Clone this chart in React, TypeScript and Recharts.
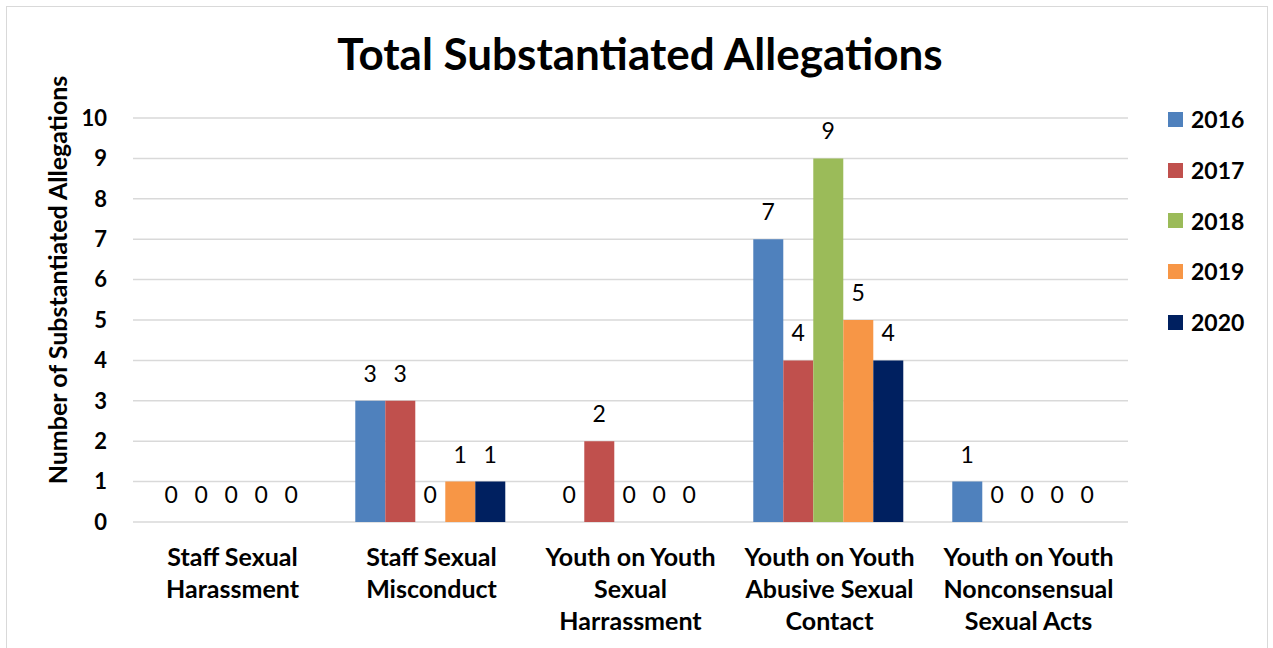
import { BarChart, Bar, XAxis, YAxis, CartesianGrid, LabelList, Label } from "recharts"

const categories = [
  "Staff Sexual\nHarassment",
  "Staff Sexual\nMisconduct",
  "Youth on Youth\nSexual\nHarrassment",
  "Youth on Youth\nAbusive Sexual\nContact",
  "Youth on Youth\nNonconsensual\nSexual Acts",
]
const years = ["2016", "2017", "2018", "2019", "2020"]
const v2016 = [0, 3, 0, 7, 1]
const v2017 = [0, 3, 2, 4, 0]
const v2018 = [0, 0, 0, 9, 0]
const v2019 = [0, 1, 0, 5, 0]
const v2020 = [0, 1, 0, 4, 0]
const yTicks = [0, 1, 2, 3, 4, 5, 6, 7, 8, 9, 10]

const colors = ["#4F81BD", "#C0504D", "#9BBB59", "#F79646", "#002060"]
const FONT = "Lato, 'Open Sans', sans-serif"

const data = categories.map((name, i) => ({
  name,
  "2016": v2016[i],
  "2017": v2017[i],
  "2018": v2018[i],
  "2019": v2019[i],
  "2020": v2020[i],
}))

function CategoryTick(props: any) {
  const { x, y, payload } = props
  const lines = String(payload.value).split("\n")
  return (
    <text x={x} y={y} textAnchor="middle" fontFamily={FONT} fontWeight={700} fontSize={25} fill="#000">
      {lines.map((ln, i) => (
        <tspan key={i} x={x} dy={i === 0 ? 36 : 32}>
          {ln}
        </tspan>
      ))}
    </text>
  )
}

function YLabel(props: any) {
  const { viewBox } = props
  const cx = viewBox.x + 24
  const cy = viewBox.y + viewBox.height / 2 - 40
  return (
    <text
      x={cx}
      y={cy}
      transform={`rotate(-90, ${cx}, ${cy})`}
      textAnchor="middle"
      dominantBaseline="central"
      fontFamily={FONT}
      fontWeight={700}
      fontSize={25}
      fill="#000"
    >
      Number of Substantiated Allegations
    </text>
  )
}

// keep zero bars in the label pass so their "0" labels are drawn
const zeroSize = (value: any) => (value === 0 ? 0.01 : 0)

export default function App() {
  return (
    <div style={{ position: "absolute", left: 0, top: 0, width: 1273, height: 648, overflow: "hidden", background: "#fff" }}>
      <div
        style={{
          position: "absolute",
          left: 6,
          top: 6,
          width: 1262,
          height: 700,
          border: "1.5px solid #d9d9d9",
          boxSizing: "border-box",
        }}
      />
      <div
        style={{
          position: "absolute",
          left: 0,
          top: 27,
          width: 1280,
          textAlign: "center",
          fontFamily: FONT,
          fontWeight: 700,
          fontSize: 44,
          color: "#000",
        }}
      >
        Total Substantiated Allegations
      </div>
      <div style={{ position: "absolute", left: 0, top: 0 }}>
        <BarChart
          width={1273}
          height={648}
          data={data}
          margin={{ top: 118, right: 145, left: 33, bottom: 16 }}
          barCategoryGap="11.7%"
          barGap={0}
        >
          <CartesianGrid horizontal vertical={false} stroke="#d9d9d9" strokeWidth={1.5} />
          <XAxis
            dataKey="name"
            axisLine={false}
            tickLine={false}
            interval={0}
            height={110}
            tick={<CategoryTick />}
          />
          <YAxis
            width={100}
            domain={[0, 10]}
            ticks={yTicks}
            axisLine={false}
            tickLine={false}
            tickMargin={20}
            tick={{ fontFamily: FONT, fontWeight: 700, fontSize: 22, fill: "#000" }}
          >
            <Label content={<YLabel />} />
          </YAxis>
          {years.map((yr, i) => (
            <Bar
              key={yr}
              dataKey={yr}
              name={yr}
              fill={colors[i]}
              minPointSize={zeroSize}
              isAnimationActive={false}
            >
              <LabelList
                dataKey={yr}
                position="top"
                offset={19}
                fontFamily={FONT}
                fontSize={23}
                fill="#000"
              />
            </Bar>
          ))}
        </BarChart>
      </div>
      <div style={{ position: "absolute", left: 1168, top: 94, fontFamily: FONT }}>
        {years.map((yr, i) => (
          <div key={yr} style={{ display: "flex", alignItems: "center", height: 50.7 }}>
            <div style={{ width: 15, height: 15, background: colors[i], marginRight: 8 }} />
            <span style={{ fontSize: 23, fontWeight: 700, color: "#000" }}>{yr}</span>
          </div>
        ))}
      </div>
    </div>
  )
}
